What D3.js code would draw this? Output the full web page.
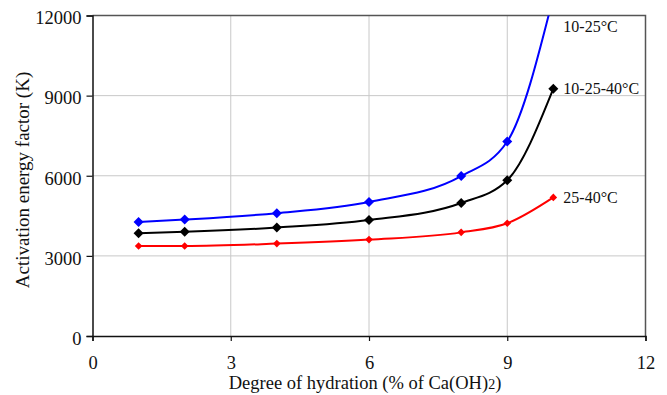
<!DOCTYPE html>
<html>
<head>
<meta charset="utf-8">
<script src="https://cdn.jsdelivr.net/npm/d3@7"></script>
<style>
  body { margin: 0; background: #fff; }
  svg text { font-family: "Liberation Serif", "Times New Roman", serif; fill: #111; }
</style>
</head>
<body>
<script>
// data
const hydration = [1, 2, 4, 6, 8, 9, 10]
const e10to25 = [4270, 4360, 4600, 5020, 5990, 7280, 12700]
const e10to25to40 = [3850, 3900, 4060, 4340, 4980, 5830, 9260]
const e25to40 = [3370, 3370, 3460, 3610, 3880, 4220, 5190]
const xTicks = [0, 3, 6, 9, 12]
const yTicks = [0, 3000, 6000, 9000, 12000]

const series = [
  { name: "10-25°C", values: e10to25, color: "#0000ff", size: 5, labelY: 11570 },
  { name: "10-25-40°C", values: e10to25to40, color: "#000000", size: 5, labelY: 9260 },
  { name: "25-40°C", values: e25to40, color: "#ff0000", size: 3.8, labelY: 5190 }
]

const width = 667, height = 395
const pLeft = 92.5, pRight = 645.5, pTop = 15.5, pBottom = 336

const svg = d3.select("body").append("svg")
  .attr("width", width)
  .attr("height", height)

const x = d3.scaleLinear().domain([0, 12]).range([pLeft, pRight])
const y = d3.scaleLinear().domain([0, 12000]).range([pBottom, pTop])

// grid
svg.append("g")
  .selectAll("line")
  .data(xTicks.slice(1, -1))
  .join("line")
  .attr("x1", d => x(d)).attr("x2", d => x(d))
  .attr("y1", pTop).attr("y2", pBottom)
  .attr("stroke", "#c8c8c8").attr("stroke-width", 1)
svg.append("g")
  .selectAll("line")
  .data(yTicks.slice(1, -1))
  .join("line")
  .attr("x1", pLeft).attr("x2", pRight)
  .attr("y1", d => y(d)).attr("y2", d => y(d))
  .attr("stroke", "#c8c8c8").attr("stroke-width", 1)

// frame top and right
svg.append("path")
  .attr("d", `M${pLeft},${pTop}H${pRight}V${pBottom}`)
  .attr("fill", "none")
  .attr("stroke", "#555")
  .attr("stroke-width", 1.5)

// axes
const xAxis = svg.append("g")
  .attr("transform", `translate(0,${pBottom})`)
  .call(d3.axisBottom(x).tickValues(xTicks).tickSize(5).tickPadding(15))
const yAxis = svg.append("g")
  .attr("transform", `translate(${pLeft},0)`)
  .call(d3.axisLeft(y).tickValues(yTicks).tickSize(6).tickPadding(5).tickFormat(d3.format("d")))
;[xAxis, yAxis].forEach(a => {
  a.select(".domain").attr("stroke", "#111").attr("stroke-width", 1.5)
  a.selectAll(".tick line").attr("stroke", "#111").attr("stroke-width", 1.2)
  a.selectAll(".tick text").attr("font-size", 18.5).attr("fill", "#111")
    .style("font-family", '"Liberation Serif", serif')
})
yAxis.selectAll(".tick text").attr("dy", "0.45em")

// clip for lines
svg.append("clipPath").attr("id", "plot")
  .append("rect")
  .attr("x", pLeft).attr("y", pTop)
  .attr("width", pRight - pLeft).attr("height", pBottom - pTop)

const line = d3.line()
  .x(d => x(d[0]))
  .y(d => y(d[1]))
  .curve(d3.curveMonotoneX)

const diamond = s => `M0,${-s}L${s},0L0,${s}L${-s},0Z`

series.forEach(s => {
  const pts = hydration.map((h, i) => [h, s.values[i]])
  const g = svg.append("g").attr("clip-path", "url(#plot)")
  g.append("path")
    .datum(pts)
    .attr("d", line)
    .attr("fill", "none")
    .attr("stroke", s.color)
    .attr("stroke-width", 2)
  g.selectAll("path.pt")
    .data(pts.filter(p => p[1] <= 12000))
    .join("path")
    .attr("class", "pt")
    .attr("d", diamond(s.size))
    .attr("transform", d => `translate(${x(d[0])},${y(d[1])})`)
    .attr("fill", s.color)

  svg.append("text")
    .attr("x", x(10) + 10)
    .attr("y", y(s.labelY) + 5.5)
    .attr("font-size", 16)
    .text(s.name)
})

// axis titles
const xt = svg.append("text")
  .attr("x", 365)
  .attr("y", 389)
  .attr("text-anchor", "middle")
  .attr("font-size", 18.5)
xt.append("tspan").text("Degree of hydration (% of Ca(OH)")
xt.append("tspan").attr("font-size", 14).text("2")
xt.append("tspan").text(")")

svg.append("text")
  .attr("transform", `translate(29,180) rotate(-90)`)
  .attr("text-anchor", "middle")
  .attr("font-size", 19)
  .text("Activation energy factor (K)")
</script>
</body>
</html>
